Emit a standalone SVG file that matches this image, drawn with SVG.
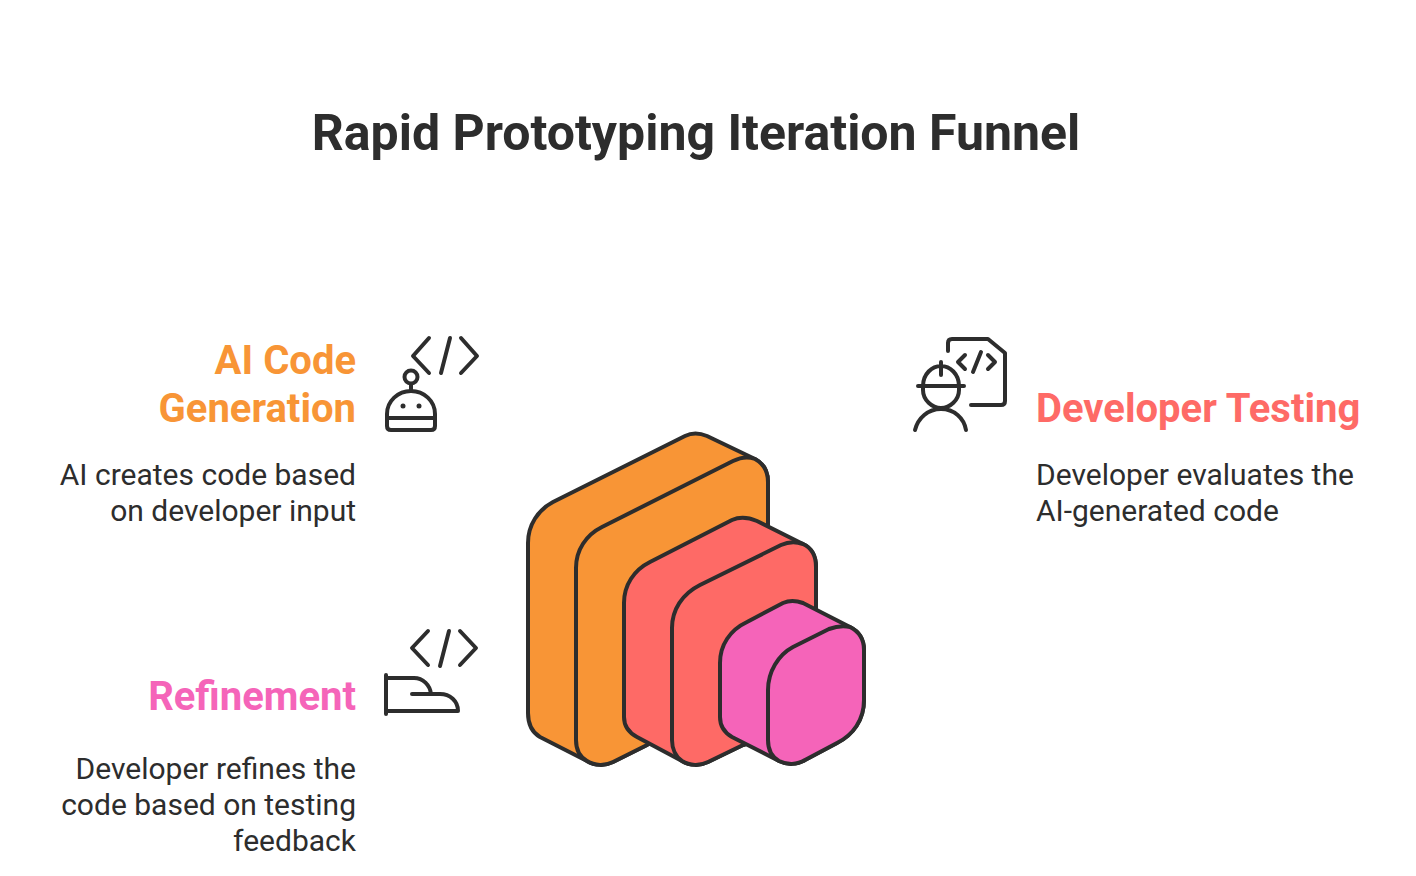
<svg xmlns="http://www.w3.org/2000/svg" width="1416" height="876" viewBox="0 0 1416 876">
<style>
text{font-family:Roboto,"Liberation Sans",sans-serif;fill:#2d2d2d}
.t{font-size:50px;font-weight:700;text-anchor:middle}
.h{font-size:40px;font-weight:700}
.b{font-size:30px;font-weight:400}
.e{text-anchor:end}
.o{fill:#f89536}.r{fill:#fe6a66}.p{fill:#f564b9}
.s{stroke:#2d2d2d;stroke-width:4;stroke-linejoin:round;stroke-linecap:round}
.i{fill:none;stroke:#2d2d2d;stroke-width:4;stroke-linecap:round;stroke-linejoin:round}
</style>
<rect width="1416" height="876" fill="#fff"/>
<text class="t" x="696" y="150">Rapid Prototyping Iteration Funnel</text>
<g id="funnel">
<path class="o s" d="M528 543C528 525 538 510 553 502L685 436Q695 431 707 436L755 459Q768 466 768 482V640L647 745L613 762C605 766 595 766 587 761L540 737Q528 730 528 713Z"/>
<path class="o s" d="M576 568C576 550 586 535 602 527L733 461Q745 455 755 459Q768 466 768 482V640L647 745L613 762C605 766 595 766 587 761C580 757 576 749 576 740Z"/>
<path class="r s" d="M624 603C624 585 634 570 650 562L732 520Q743 515 757 521L803 544Q816 550 816 567V720L743 745L708 762C700 766 690 766 682 761L637 737Q624 730 624 717Z"/>
<path class="r s" d="M672 628C672 610 682 594 700 585L781 545Q792 540 803 544Q816 550 816 567V720L743 745L708 762C700 766 690 766 682 761C676 757 672 749 672 740Z"/>
<path class="p s" d="M720 663C720 645 730 630 747 622L783 603Q792 599 803 603L850 627Q864 634 864 650V700C864 720 853 735 837 743L805 760C797 765 787 765 779 761L732 737Q720 730 720 717Z"/>
<path class="p s" d="M768 690C768 672 778 655 793 647L829 629Q840 625 850 627Q864 634 864 650V700C864 720 853 735 837 743L805 760C797 765 787 765 779 761C772 757 768 749 768 740Z"/>
</g>
<g id="ai-code-generation">
<text class="h e" x="356" y="374" style="fill:#f89536">AI Code</text>
<text class="h e" x="356" y="422" style="fill:#f89536">Generation</text>
<text class="b e" x="356" y="484.500">AI creates code based</text>
<text class="b e" x="356" y="520.500">on developer input</text>
<path class="i" d="M429 338L413 356L429 373M461 338L477 356L461 373M450 338L441 373"/>
<circle class="i" cx="411" cy="377" r="6.500"/>
<path class="i" d="M411 384V391M387 418V414C387 401 398 391 411 391C424 391 435 401 435 414V418M387 418H435V426Q435 430 431 430H391Q387 430 387 426Z"/>
<circle cx="403" cy="406" r="2.500" fill="#2d2d2d"/><circle cx="419" cy="406" r="2.500" fill="#2d2d2d"/>
</g>
<g id="developer-testing">
<text class="h" x="1036" y="422" style="fill:#fe6a66">Developer Testing</text>
<text class="b" x="1036" y="484.500">Developer evaluates the</text>
<text class="b" x="1036" y="520.500">AI-generated code</text>
<path class="i" d="M948 351V343Q948 339 952 339H988L1005 353V401Q1005 405 1001 405H971"/>
<path class="i" d="M965 355L958 362L965 369M988 355L995 362L988 369M981 352L973 372"/>
<path class="i" d="M923 386C923 374 932 366 941 366C950 366 959 374 959 386V390C959 400 950 408 941 408C932 408 923 400 923 390ZM918 386H964M941 362V375M915 430C918 418 928 409 941 409C954 409 964 418 966 430"/>
</g>
<g id="refinement">
<text class="h e" x="356" y="710" style="fill:#f564b9">Refinement</text>
<text class="b e" x="356" y="778.500">Developer refines the</text>
<text class="b e" x="356" y="814.500">code based on testing</text>
<text class="b e" x="356" y="850.500">feedback</text>
<path class="i" d="M428 631L412 648L428 665M460 631L476 648L460 665M449 631L440 666"/>
<path class="i" d="M386 675V714M386 678H414C423 678 430 685 431 694M412 694H440C450 694 458 701 458 711H386"/>
</g>
</svg>
